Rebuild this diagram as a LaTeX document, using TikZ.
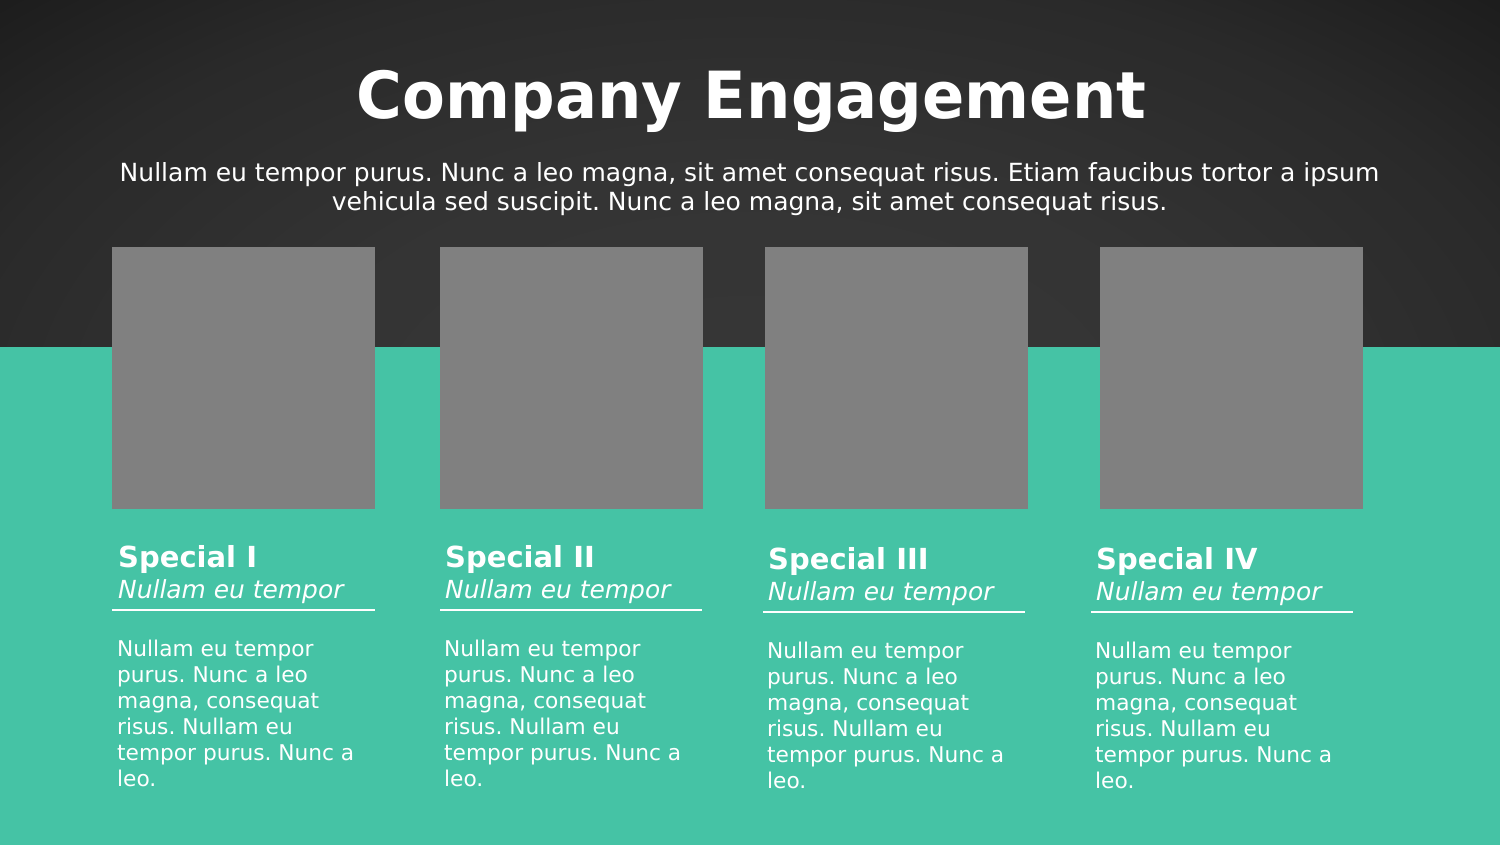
\documentclass[tikz,border=0pt]{standalone}
\usepackage{fontspec}
\setmainfont{DejaVu Sans}
\frenchspacing
\definecolor{teal}{HTML}{45C3A5}
\definecolor{boxgray}{HTML}{808080}
\definecolor{bgA}{HTML}{373737}
\definecolor{bgB}{HTML}{343434}
\definecolor{bgC}{HTML}{2A2A2A}
\definecolor{bgD}{HTML}{1A1A1A}
\pgfdeclareradialshading{slidebg}{\pgfpoint{0bp}{0bp}}{color(0bp)=(bgA); color(15bp)=(bgB); color(27bp)=(bgC); color(37bp)=(bgD); color(50bp)=(bgD)}
\tikzset{
  photo/.style={fill=boxgray, draw=none, inner sep=0, minimum width=263pt, minimum height=262pt, anchor=north west},
  rulew/.style={draw=white, line width=2pt},
  headtxt/.style={anchor=base west, inner sep=0, text=white, font=\fontsize{29}{35}\selectfont\bfseries},
  subtxt/.style={anchor=base west, inner sep=0, text=white, font=\fontsize{24.9}{30}\selectfont\itshape},
  bodytxt/.style={anchor=base west, inner sep=0, text=white, font=\fontsize{21.7}{26}\selectfont},
}
\begin{document}
\begin{tikzpicture}[x=1pt,y=-1pt]
\useasboundingbox (0,0) rectangle (1500,844);
\shade[shading=slidebg] (0,0) rectangle (1500,844);
\fill[teal] (-5,347) rectangle (1505,852);
\node[anchor=base, inner sep=0, text=white, font=\fontsize{65}{70}\selectfont\bfseries] (title) at (751.5,118) {\scalebox{0.96}[1]{Company Engagement}};
\node[anchor=base, inner sep=0, text=white] (intro) at (749.5,181) {\parbox[t]{1450pt}{\centering\fontsize{25}{29.5}\selectfont Nullam eu tempor purus. Nunc a leo magna, sit amet consequat risus. Etiam faucibus tortor a ipsum\\ vehicula sed suscipit. Nunc a leo magna, sit amet consequat risus.}};
% boxes
\node[photo] (p1) at (112,247) {};
\node[photo] (p2) at (440,247) {};
\node[photo] (p3) at (765,247) {};
\node[photo] (p4) at (1100,247) {};
% column 1
\node[headtxt] (h1) at (118,567) {Special I};
\node[subtxt] (s1) at (118,598) {Nullam eu tempor};
\coordinate (l1a) at (112,609.5); \coordinate (l1b) at (375,609.5);
\draw[rulew] (l1a) -- (l1b);
\node[bodytxt] (b1) at (117,656) {\parbox[t]{300pt}{\raggedright Nullam eu tempor\\ purus. Nunc a leo\\ magna, consequat\\ risus. Nullam eu\\ tempor purus. Nunc a\\ leo.}};
% column 2
\node[headtxt] (h2) at (445,567) {Special II};
\node[subtxt] (s2) at (445,598) {Nullam eu tempor};
\coordinate (l2a) at (440,609.5); \coordinate (l2b) at (702,609.5);
\draw[rulew] (l2a) -- (l2b);
\node[bodytxt] (b2) at (444,656) {\parbox[t]{300pt}{\raggedright Nullam eu tempor\\ purus. Nunc a leo\\ magna, consequat\\ risus. Nullam eu\\ tempor purus. Nunc a\\ leo.}};
% column 3
\node[headtxt] (h3) at (768,569.5) {Special III};
\node[subtxt] (s3) at (768,600) {Nullam eu tempor};
\coordinate (l3a) at (763,611.5); \coordinate (l3b) at (1025,611.5);
\draw[rulew] (l3a) -- (l3b);
\node[bodytxt] (b3) at (767,658) {\parbox[t]{300pt}{\raggedright Nullam eu tempor\\ purus. Nunc a leo\\ magna, consequat\\ risus. Nullam eu\\ tempor purus. Nunc a\\ leo.}};
% column 4
\node[headtxt] (h4) at (1096,569.5) {Special IV};
\node[subtxt] (s4) at (1096,600) {Nullam eu tempor};
\coordinate (l4a) at (1091,611.5); \coordinate (l4b) at (1353,611.5);
\draw[rulew] (l4a) -- (l4b);
\node[bodytxt] (b4) at (1095,658) {\parbox[t]{300pt}{\raggedright Nullam eu tempor\\ purus. Nunc a leo\\ magna, consequat\\ risus. Nullam eu\\ tempor purus. Nunc a\\ leo.}};
\end{tikzpicture}
\end{document}
